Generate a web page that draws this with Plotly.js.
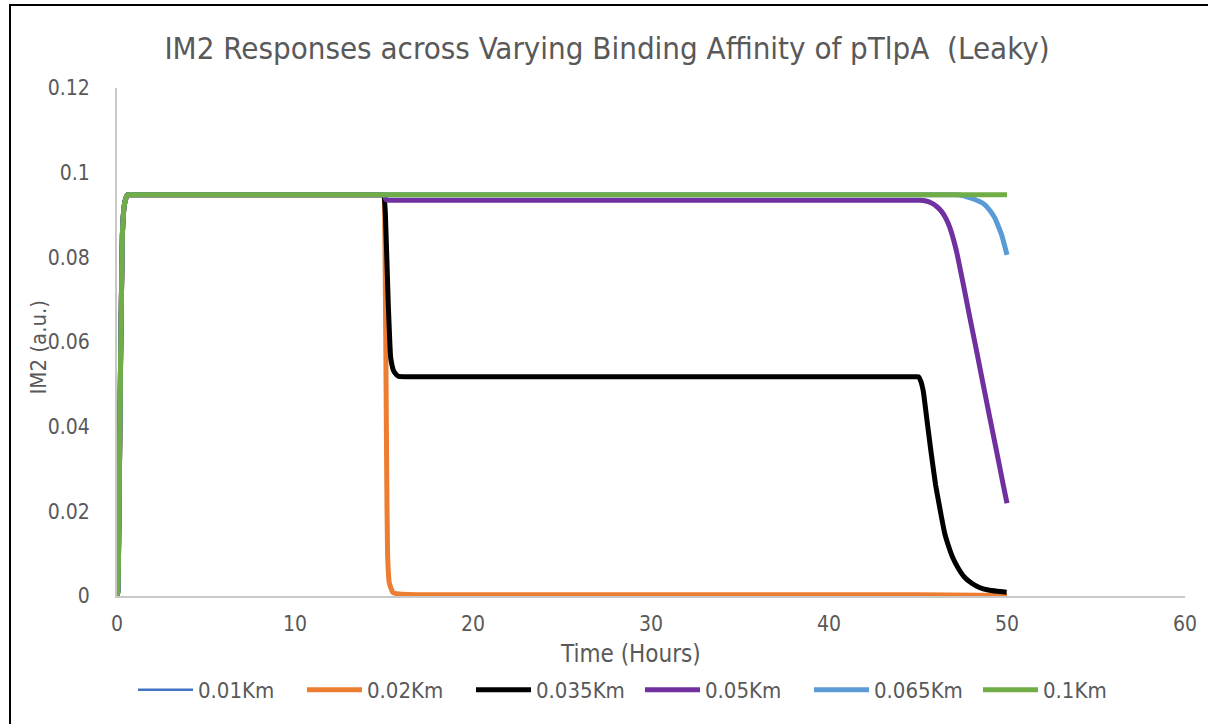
<!DOCTYPE html>
<html>
<head>
<meta charset="utf-8">
<script src="https://cdn.plot.ly/plotly-3.0.1.min.js"></script>
<style>html,body{margin:0;padding:0;background:#fff;}#chart{width:1208px;height:724px;}</style>
</head>
<body>
<div id="chart"></div>
<script>
// ---- data ----
var seriesNames = ["0.01Km", "0.02Km", "0.035Km", "0.05Km", "0.065Km", "0.1Km"];
var seriesColors = ["#4472C4", "#ED7D31", "#000000", "#7030A0", "#5B9BD5", "#70AD47"];

var t001 = [0, 0.05, 0.1, 0.2, 0.3, 0.4, 0.5, 0.6, 0.8, 1, 5, 10, 14.5, 14.9, 15.0, 15.05, 15.1, 15.15, 15.2, 15.3, 15.5, 16, 17, 20, 30, 40, 44, 45, 50];
var y001 = [0, 0.001, 0.015, 0.055, 0.085, 0.092, 0.094, 0.0948, 0.0948, 0.0948, 0.0948, 0.0948, 0.0948, 0.0948, 0.0948, 0.085, 0.06, 0.03, 0.01, 0.003, 0.0008, 0.0004, 0.0003, 0.0003, 0.0003, 0.0003, 0.0003, 0.0003, 0.0001];

var t002 = [0, 0.05, 0.1, 0.2, 0.3, 0.4, 0.5, 0.6, 0.8, 1, 5, 10, 14.5, 14.9, 15.0, 15.05, 15.1, 15.15, 15.2, 15.3, 15.5, 16, 17, 20, 30, 40, 44, 45, 50];
var y002 = [0, 0.001, 0.015, 0.055, 0.085, 0.092, 0.094, 0.0948, 0.0948, 0.0948, 0.0948, 0.0948, 0.0948, 0.0948, 0.0948, 0.085, 0.06, 0.03, 0.01, 0.003, 0.0008, 0.0004, 0.0003, 0.0003, 0.0003, 0.0003, 0.0003, 0.0003, 0.0001];

var t0035 = [0, 0.05, 0.1, 0.2, 0.3, 0.4, 0.5, 0.6, 0.8, 1, 5, 10, 14.5, 14.9, 15.0, 15.08, 15.24, 15.37, 15.45, 15.52, 15.65, 15.8, 16.2, 17, 20, 30, 40, 43, 44.3, 44.8, 45.02, 45.15, 45.3, 45.49, 45.73, 45.99, 46.33, 46.5, 46.7, 46.95, 47.27, 47.6, 48.02, 48.45, 48.95, 49.45, 49.98];
var y0035 = [0, 0.001, 0.015, 0.055, 0.085, 0.092, 0.094, 0.0948, 0.0948, 0.0948, 0.0948, 0.0948, 0.0948, 0.0948, 0.0948, 0.09, 0.069, 0.0565, 0.0545, 0.0534, 0.0525, 0.0519, 0.0518, 0.0518, 0.0518, 0.0518, 0.0518, 0.0518, 0.0518, 0.0518, 0.0518, 0.0508, 0.0483, 0.042, 0.0341, 0.0262, 0.0184, 0.0148, 0.012, 0.0091, 0.0065, 0.0045, 0.003, 0.002, 0.0014, 0.0011, 0.0009];

var t005 = [0, 0.05, 0.1, 0.2, 0.3, 0.4, 0.5, 0.6, 0.8, 1, 5, 10, 14.5, 14.9, 15.0, 15.1, 15.3, 16, 17, 20, 30, 40, 43, 44.3, 44.8, 45.11, 45.45, 45.77, 46.05, 46.33, 46.58, 46.8, 47.17, 47.55, 47.92, 48.3, 48.67, 49.04, 49.42, 49.79, 50.0];
var y005 = [0, 0.001, 0.015, 0.055, 0.085, 0.092, 0.094, 0.0948, 0.0948, 0.0948, 0.0948, 0.0948, 0.0948, 0.0948, 0.0948, 0.0937, 0.0935, 0.0935, 0.0935, 0.0935, 0.0935, 0.0935, 0.0935, 0.0935, 0.0935, 0.0935, 0.0933, 0.0928, 0.0920, 0.0908, 0.0891, 0.0869, 0.0813, 0.0735, 0.0656, 0.0577, 0.0498, 0.042, 0.0341, 0.0262, 0.0219];

var t0065 = [0, 0.05, 0.1, 0.2, 0.3, 0.4, 0.5, 0.6, 0.8, 1, 5, 10, 15, 20, 30, 40, 45, 46.3, 47.08, 47.5, 48.02, 48.4, 48.76, 49.05, 49.33, 49.7, 50.0];
var y0065 = [0, 0.001, 0.015, 0.055, 0.085, 0.092, 0.094, 0.0948, 0.0948, 0.0948, 0.0948, 0.0948, 0.0948, 0.0948, 0.0948, 0.0948, 0.0948, 0.0948, 0.0948, 0.0946, 0.0939, 0.0933, 0.0924, 0.0910, 0.0892, 0.0853, 0.0806];

var t01 = [0, 0.05, 0.1, 0.2, 0.3, 0.4, 0.5, 0.6, 0.8, 1, 5, 10, 15, 20, 30, 40, 45, 50];
var y01 = [0, 0.001, 0.015, 0.055, 0.085, 0.092, 0.094, 0.0948, 0.0948, 0.0948, 0.0948, 0.0948, 0.0948, 0.0948, 0.0948, 0.0948, 0.0948, 0.0948];

var xTickVals = [0, 10, 20, 30, 40, 50, 60];
var yTickVals = [0, 0.02, 0.04, 0.06, 0.08, 0.1, 0.12];
var yTickText = ["0", "0.02", "0.04", "0.06", "0.08", "0.1", "0.12"];

var chartTitle = "IM2 Responses across Varying Binding Affinity of pTlpA  (Leaky)";
var xTitle = "Time (Hours)";
var yTitle = "IM2 (a.u.)";

// ---- build traces ----
var xs = [t001, t002, t0035, t005, t0065, t01];
var ys = [y001, y002, y0035, y005, y0065, y01];
var widths = [2.5, 5, 5, 5, 5, 5];
var traces = [];
for (var i = 0; i < seriesNames.length; i++) {
  traces.push({
    type: "scatter", mode: "lines",
    x: xs[i], y: ys[i], name: seriesNames[i],
    line: {color: seriesColors[i], width: widths[i], shape: "spline", smoothing: 0.3},
    hoverinfo: "x+y+name"
  });
}

var FONT = "'DejaVu Sans Condensed', 'Liberation Sans Narrow', 'DejaVu Sans', sans-serif";
var GRAY = "#595959";

var layout = {
  width: 1208, height: 724,
  margin: {l: 117, r: 23, t: 88, b: 128, pad: 0},
  paper_bgcolor: "#ffffff", plot_bgcolor: "#ffffff",
  font: {family: FONT, color: GRAY, size: 21},
  title: {text: chartTitle, font: {family: FONT, size: 31, color: GRAY},
          x: 0.5025, xanchor: "center", xref: "container",
          y: 1 - 48 / 724, yanchor: "middle", yref: "container"},
  showlegend: true,
  legend: {orientation: "h", x: (133 - 117) / 1068, xanchor: "left", y: -0.185, yanchor: "middle",
           font: {family: FONT, size: 22, color: GRAY}, itemwidth: 55, traceorder: "normal",
           entrywidth: 99, entrywidthmode: "pixels",
           bgcolor: "rgba(0,0,0,0)"},
  xaxis: {range: [0, 60], tickvals: xTickVals, showgrid: false, zeroline: false,
          showline: true, linecolor: "#c8c8c8", linewidth: 2, ticks: "",
          ticklabelstandoff: 8, tickfont: {family: FONT, size: 21, color: GRAY}, fixedrange: true},
  yaxis: {range: [0, 0.12], tickvals: yTickVals, ticktext: yTickText, showgrid: false, zeroline: false,
          showline: true, linecolor: "#c8c8c8", linewidth: 2, ticks: "",
          ticklabelstandoff: 21, tickfont: {family: FONT, size: 21, color: GRAY}, fixedrange: true},
  annotations: [
    {text: xTitle, xref: "paper", yref: "paper", x: (630 - 117) / 1068, y: (596 - 654) / 508,
     xanchor: "center", yanchor: "middle", showarrow: false, font: {family: FONT, size: 24, color: GRAY}},
    {text: yTitle, xref: "paper", yref: "paper", x: (37.5 - 117) / 1068, y: (596 - 348) / 508,
     xanchor: "center", yanchor: "middle", textangle: -90, showarrow: false, font: {family: FONT, size: 22, color: GRAY}}
  ],
  shapes: [
    {type: "rect", xref: "paper", yref: "paper", x0: (10 - 117) / 1068, x1: 1.3, y0: -0.6, y1: (596 - 5) / 508,
     line: {color: "#000000", width: 2}, fillcolor: "rgba(0,0,0,0)", layer: "above"}
  ]
};

Plotly.newPlot("chart", traces, layout, {displayModeBar: false, staticPlot: true});
</script>
</body>
</html>
